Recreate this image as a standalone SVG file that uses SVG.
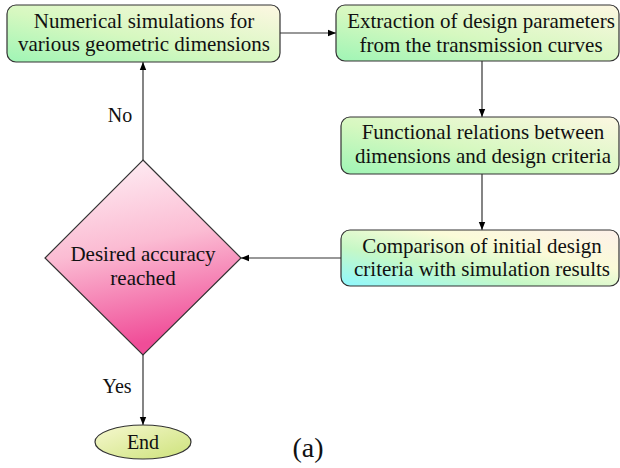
<svg xmlns="http://www.w3.org/2000/svg" width="620" height="468" viewBox="0 0 620 468">
<style>
.box{stroke:#333;stroke-width:1.2}
.t{font-family:"Liberation Serif",serif;font-size:21px;fill:#111;text-anchor:middle}
.lbl{font-family:"Liberation Serif",serif;font-size:20px;fill:#111;text-anchor:middle}
.c{stroke:#333;stroke-width:1.2;fill:none;marker-end:url(#ah)}
</style>
<defs>
<marker id="ah" viewBox="0 0 10 10" refX="10" refY="5" markerWidth="8" markerHeight="8" markerUnits="userSpaceOnUse" orient="auto">
<path d="M0,1 L10,5 L0,9 z" fill="#000"/>
</marker>
<linearGradient id="gBox" x1="0" y1="1" x2="1" y2="0">
<stop offset="0" stop-color="#9ff5b5"/>
<stop offset="0.45" stop-color="#d6f8c0"/>
<stop offset="1" stop-color="#fdf7e2"/>
</linearGradient>
<linearGradient id="gBox4" x1="0" y1="1" x2="1" y2="0">
<stop offset="0" stop-color="#8ff8ff"/>
<stop offset="0.35" stop-color="#c6f8c6"/>
<stop offset="0.65" stop-color="#fbfbd8"/>
<stop offset="1" stop-color="#fdf0ea"/>
</linearGradient>
<linearGradient id="gDia" x1="0" y1="0" x2="0.2" y2="1">
<stop offset="0" stop-color="#fff4f8"/>
<stop offset="0.5" stop-color="#fbbcd3"/>
<stop offset="1" stop-color="#f04d98"/>
</linearGradient>
<linearGradient id="gEnd" x1="0" y1="0" x2="1" y2="1">
<stop offset="0" stop-color="#f6f8d0"/>
<stop offset="1" stop-color="#cde27a"/>
</linearGradient>
</defs>
<g id="connectors">
<path class="c" d="M280,33 H336"/>
<path class="c" d="M482,61 V117"/>
<path class="c" d="M482,174 V230"/>
<path class="c" d="M341,258 H241"/>
<path class="c" d="M143,160 V62"/>
<path class="c" d="M143,355 V425"/>
<text class="lbl" x="120" y="122" font-family="Liberation Serif">No</text>
<text class="lbl" x="117" y="393" font-family="Liberation Serif">Yes</text>
</g>
<g id="n1" font-family="Liberation Serif">
<rect class="box" x="7" y="5" width="273" height="57" rx="9" fill="url(#gBox)"/>
<text class="t" x="144" y="28" font-family="Liberation Serif">Numerical simulations for</text>
<text class="t" x="144" y="51" font-family="Liberation Serif">various geometric dimensions</text>
</g>
<g id="n2" font-family="Liberation Serif">
<rect class="box" x="336" y="5" width="283" height="56" rx="9" fill="url(#gBox)"/>
<text class="t" x="481" y="28" font-family="Liberation Serif">Extraction of design parameters</text>
<text class="t" x="481" y="52" font-family="Liberation Serif">from the transmission curves</text>
</g>
<g id="n3" font-family="Liberation Serif">
<rect class="box" x="341" y="117" width="278" height="57" rx="9" fill="url(#gBox)"/>
<text class="t" x="483" y="139" font-family="Liberation Serif">Functional relations between</text>
<text class="t" x="483" y="163" font-family="Liberation Serif">dimensions and design criteria</text>
</g>
<g id="n4" font-family="Liberation Serif">
<rect class="box" x="341" y="230" width="278" height="56" rx="9" fill="url(#gBox4)"/>
<text class="t" x="482" y="253" font-family="Liberation Serif">Comparison of initial design</text>
<text class="t" x="482" y="276" font-family="Liberation Serif">criteria with simulation results</text>
</g>
<g id="decision" font-family="Liberation Serif">
<polygon class="box" points="143,160 241,258 143,355 45,258" fill="url(#gDia)"/>
<text class="t" x="143" y="261" font-family="Liberation Serif">Desired accuracy</text>
<text class="t" x="143" y="285" font-family="Liberation Serif">reached</text>
</g>
<g id="end" font-family="Liberation Serif">
<ellipse class="box" cx="143" cy="442" rx="48" ry="17" fill="url(#gEnd)"/>
<text class="t" x="143" y="449" font-family="Liberation Serif" style="font-size:20px">End</text>
</g>
<text class="t" x="308" y="457" font-family="Liberation Serif" style="font-size:28px">(a)</text>
</svg>
